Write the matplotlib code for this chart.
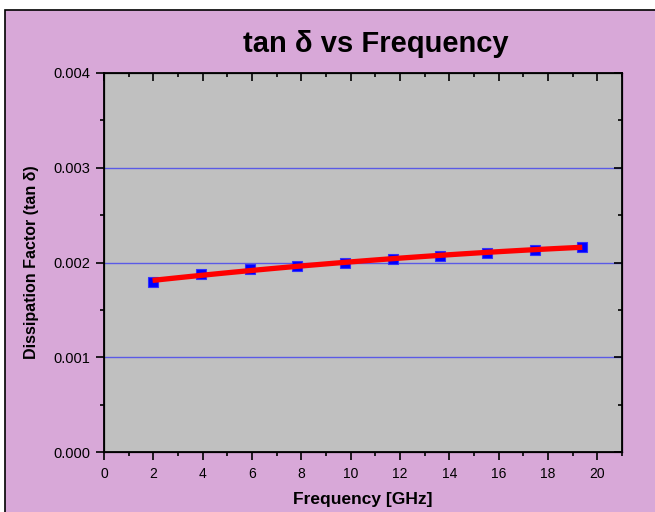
import numpy as np
import matplotlib
matplotlib.use("Agg")
import matplotlib.pyplot as plt
from matplotlib.patches import Rectangle
from matplotlib.ticker import MultipleLocator

# measured loss tangent vs frequency
freq_ghz = [1.97, 3.93, 5.90, 7.84, 9.79, 11.71, 13.63, 15.53, 17.49, 19.39]
tan_d = [0.001796, 0.001875, 0.001928, 0.001963, 0.001995,
         0.002037, 0.002072, 0.002104, 0.002133, 0.002168]

title = "tan \u03b4 vs Frequency"
xlabel = "Frequency [GHz]"
ylabel = "Dissipation Factor (tan \u03b4)"

plt.rcParams['font.family'] = ['Liberation Sans', 'DejaVu Sans']

fig = plt.figure(figsize=(6.55, 5.12), dpi=100, facecolor="white")

# purple panel behind the plot, running off the right and bottom edges
panel = Rectangle((5 / 655, -0.1), 1.2, 1.1 - 10 / 512,
                  transform=fig.transFigure, facecolor="#D8A8D8",
                  edgecolor="black", linewidth=1.2, zorder=-5)
fig.patches.append(panel)

ax = fig.add_axes([104 / 655, 1 - 452 / 512, 518 / 655, 379 / 512])
ax.set_facecolor("#C0C0C0")

# fitted curve through the measurements
coef = np.polyfit(freq_ghz, tan_d, 2)
xf = np.linspace(freq_ghz[0], freq_ghz[-1], 100)
ax.plot(xf, np.polyval(coef, xf), color="red", lw=3.8, zorder=3,
        solid_capstyle="butt")
ax.plot(freq_ghz, tan_d, ls="none", marker="s", ms=6.5, mfc="blue",
        mec="#3030ff", mew=0.8, zorder=2)

ax.set_xlim(0, 21)
ax.set_ylim(0, 0.004)
ax.xaxis.set_major_locator(MultipleLocator(2))
ax.xaxis.set_minor_locator(MultipleLocator(1))
ax.yaxis.set_major_locator(MultipleLocator(0.001))
ax.yaxis.set_minor_locator(MultipleLocator(0.0005))
ax.yaxis.set_major_formatter(lambda v, p: "%.3f" % v)

for yv in [0.001, 0.002, 0.003]:
    ax.axhline(yv, color="#5a5ae6", lw=1.0, zorder=1)

for s in ax.spines.values():
    s.set_linewidth(1.3)

ax.tick_params(which="both", direction="out", width=1.2,
               top=False, right=False)
ax.tick_params(which="major", length=6)
ax.tick_params(which="minor", length=3)
ax.tick_params(axis="x", labelsize=10, pad=5)
ax.tick_params(axis="y", labelsize=10.5, pad=4)

# inward ticks on top and right
sec = ax.twiny()
sec.set_xlim(ax.get_xlim())
sec.xaxis.set_major_locator(MultipleLocator(2))
sec.xaxis.set_minor_locator(MultipleLocator(1))
sec.tick_params(which="both", direction="in", labeltop=False, width=1.2)
sec.tick_params(which="major", length=6)
sec.tick_params(which="minor", length=3)
sec2 = ax.twinx()
sec2.set_ylim(ax.get_ylim())
sec2.yaxis.set_major_locator(MultipleLocator(0.001))
sec2.yaxis.set_minor_locator(MultipleLocator(0.0005))
sec2.tick_params(which="both", direction="in", labelright=False, width=1.2)
sec2.tick_params(which="major", length=6)
sec2.tick_params(which="minor", length=3)

ax.set_xlabel(xlabel, fontsize=12.5, fontweight="bold", labelpad=8)
ax.set_ylabel(ylabel, fontsize=11.5, fontweight="bold", labelpad=10)
fig.text(376 / 655, 1 - 44 / 512, title, ha="center", va="center",
         fontsize=21, fontweight="bold")

fig.savefig("out.png", dpi=100, facecolor=fig.get_facecolor())
